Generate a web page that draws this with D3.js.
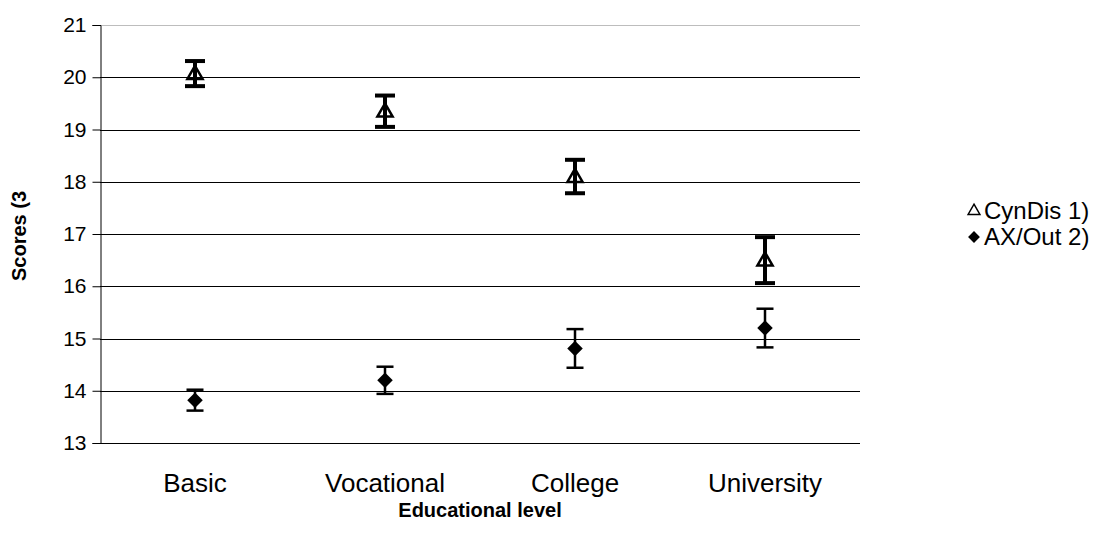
<!DOCTYPE html>
<html>
<head>
<meta charset="utf-8">
<script src="https://cdn.jsdelivr.net/npm/d3@7"></script>
<style>
  body { margin: 0; background: #fff; }
  svg { display: block; font-family: "Liberation Sans", Arial, sans-serif; }
</style>
</head>
<body>
<svg id="chart" width="1110" height="537"></svg>
<script>
// Educational level categories
const categories = ["Basic", "Vocational", "College", "University"];

// Mean scores and error half-widths per series
const cynDisMean = [20.07, 19.35, 18.10, 16.50];
const cynDisErr  = [0.24, 0.30, 0.32, 0.44];
const axOutMean  = [13.82, 14.20, 14.81, 15.20];
const axOutErr   = [0.20, 0.26, 0.37, 0.37];

const yTicks = [13, 14, 15, 16, 17, 18, 19, 20, 21];
const legendLabels = ["CynDis 1)", "AX/Out 2)"];

const svg = d3.select("#chart");
const plot = { left: 100, right: 860, top: 25, bottom: 443 };

const x = d3.scaleBand().domain(categories).range([plot.left, plot.right]);
const y = d3.scaleLinear().domain([13, 21]).range([plot.bottom, plot.top]);

// square diamond marker (equal width and height)
const squareDiamond = {
  draw(ctx, size) {
    const r = Math.sqrt(size / 2);
    ctx.moveTo(0, -r); ctx.lineTo(r, 0); ctx.lineTo(0, r); ctx.lineTo(-r, 0); ctx.closePath();
  }
};

// horizontal gridlines
svg.append("g").selectAll("line")
  .data(yTicks.filter(t => t > 13))
  .join("line")
  .attr("x1", plot.left).attr("x2", plot.right)
  .attr("y1", d => Math.round(y(d)) + 0.5).attr("y2", d => Math.round(y(d)) + 0.5)
  .attr("stroke", d => d === 21 ? "#bdbdbd" : "#000")
  .attr("stroke-width", 1);

// y axis
const yAxis = svg.append("g")
  .attr("transform", `translate(${plot.left + 0.5},0)`)
  .call(d3.axisLeft(y).tickValues(yTicks).tickSize(8).tickPadding(6).tickFormat(d3.format("d")));
yAxis.select(".domain").attr("stroke", "#000");
yAxis.selectAll(".tick line").attr("stroke", "#000");
yAxis.selectAll("text").attr("font-size", 21).attr("fill", "#000")
  .attr("font-family", "Liberation Sans, Arial, sans-serif");

// x axis
const xAxis = svg.append("g")
  .attr("transform", `translate(0,${plot.bottom + 0.5})`)
  .call(d3.axisBottom(x).tickSize(0).tickPadding(30));
xAxis.select(".domain").attr("stroke", "#000").attr("d", `M${plot.left},0H${plot.right}`);
xAxis.selectAll("text").attr("font-size", 26).attr("fill", "#000")
  .attr("font-family", "Liberation Sans, Arial, sans-serif");

// axis titles
svg.append("text")
  .attr("x", 480).attr("y", 517)
  .attr("text-anchor", "middle").attr("font-weight", "bold").attr("font-size", 20)
  .text("Educational level");
svg.append("text")
  .attr("transform", `translate(26,${(plot.top + plot.bottom) / 2 + 2}) rotate(-90)`)
  .attr("text-anchor", "middle").attr("font-weight", "bold").attr("font-size", 20)
  .text("Scores (3");

const triangle = d3.symbol().type(d3.symbolTriangle).size(100);
const diamond = d3.symbol().type(squareDiamond).size(120);

function errorBars(means, errs, width, capHalf) {
  const g = svg.append("g").attr("stroke", "#000").attr("stroke-width", width);
  categories.forEach((c, i) => {
    const cx = x(c) + x.bandwidth() / 2;
    const y1 = y(means[i] + errs[i]), y0 = y(means[i] - errs[i]);
    g.append("line").attr("x1", cx).attr("x2", cx).attr("y1", y1).attr("y2", y0);
    g.append("line").attr("x1", cx - capHalf).attr("x2", cx + capHalf).attr("y1", y1).attr("y2", y1);
    g.append("line").attr("x1", cx - capHalf).attr("x2", cx + capHalf).attr("y1", y0).attr("y2", y0);
  });
}

// CynDis: thick error bars, hollow triangles
errorBars(cynDisMean, cynDisErr, 4, 10);
svg.append("g").selectAll("path")
  .data(cynDisMean)
  .join("path")
  .attr("d", triangle)
  .attr("transform", (d, i) => `translate(${x(categories[i]) + x.bandwidth() / 2},${y(d) + 1})`)
  .attr("fill", "none").attr("stroke", "#000").attr("stroke-width", 2.5);

// AX/Out: thinner error bars, filled diamonds
errorBars(axOutMean, axOutErr, 2.5, 8.5);
svg.append("g").selectAll("path")
  .data(axOutMean)
  .join("path")
  .attr("d", diamond)
  .attr("transform", (d, i) => `translate(${x(categories[i]) + x.bandwidth() / 2},${y(d)})`)
  .attr("fill", "#000");

// legend
const legend = svg.append("g").attr("transform", "translate(974,0)");
legend.append("path").attr("d", d3.symbol().type(d3.symbolTriangle).size(60))
  .attr("transform", "translate(0,211)").attr("fill", "#fff").attr("stroke", "#000").attr("stroke-width", 1.5);
legend.append("path").attr("d", d3.symbol().type(squareDiamond).size(70))
  .attr("transform", "translate(0,237)").attr("fill", "#000");
legend.selectAll("text")
  .data(legendLabels)
  .join("text")
  .attr("x", 10).attr("y", (d, i) => 219 + i * 26)
  .attr("font-size", 24).attr("fill", "#000")
  .text(d => d);
</script>
</body>
</html>
